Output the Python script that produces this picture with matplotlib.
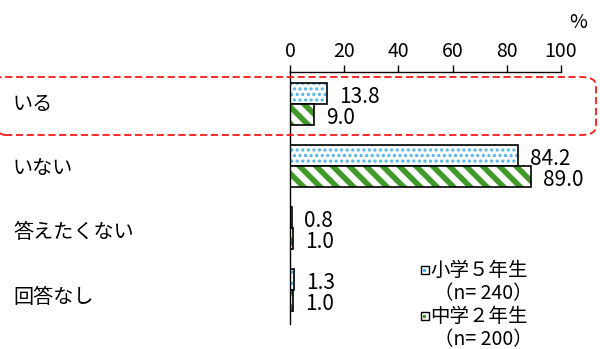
import matplotlib.pyplot as plt
from matplotlib.patches import FancyBboxPatch, Rectangle
import numpy as np

plt.rcParams['font.family'] = ['Noto Sans CJK JP', 'DejaVu Sans']

categories = ['いる', 'いない', '答えたくない', '回答なし']
elem5 = [13.8, 84.2, 0.8, 1.3]   # 小学5年生
mid2 = [9.0, 89.0, 1.0, 1.0]     # 中学2年生
series_names = ['小学５年生', '中学２年生']
series_n = ['（n= 240）', '（n= 200）']
xticks = [0, 20, 40, 60, 80, 100]

blue = '#4fb3e8'
green = '#3f9a2a'

fig = plt.figure(figsize=(6, 3.49), dpi=100)
ax = fig.add_axes([290/600, 1 - 324/349, (561 - 290)/600, (324 - 72)/349])

y = np.arange(len(categories))
h = 0.34

# 小学5年生: dotted
with plt.rc_context({'hatch.linewidth': 1.5}):
    ax.barh(y - h/2, elem5, height=h, color='white', edgecolor=blue,
            hatch='...', linewidth=0)
ax.barh(y - h/2, elem5, height=h, fill=False, edgecolor='black', linewidth=1.2)

# 中学2年生: diagonal stripes
with plt.rc_context({'hatch.linewidth': 4.0}):
    ax.barh(y + h/2, mid2, height=h, color='white', edgecolor=green,
            hatch='\\\\', linewidth=0)
ax.barh(y + h/2, mid2, height=h, fill=False, edgecolor='black', linewidth=1.2)

for i in range(len(categories)):
    ax.text(elem5[i] + 4.5, y[i] - h/2 + 0.05, f'{elem5[i]:.1f}', va='center',
            ha='left', fontsize=15)
    ax.text(mid2[i] + 4.5, y[i] + h/2 + 0.05, f'{mid2[i]:.1f}', va='center',
            ha='left', fontsize=15)

ax.set_xlim(0, 100)
ax.set_ylim(3.55, -0.52)
ax.xaxis.tick_top()
ax.set_xticks(xticks)
ax.set_xticklabels([str(t) for t in xticks], fontsize=14)
ax.tick_params(axis='x', direction='out', length=5, width=1, pad=2)
ax.set_yticks([])
for s in ['right', 'bottom']:
    ax.spines[s].set_visible(False)
for s in ['left', 'top']:
    ax.spines[s].set_linewidth(1)

for i, c in enumerate(categories):
    yy = 1 - (104 + i * 64.5) / 349
    fig.text(13/600, yy, c, fontsize=14.5, va='center', ha='left')

fig.text(578/600, 1 - 22/349, '%', fontsize=14, va='center', ha='center')

# highlight box
fig.patches.append(FancyBboxPatch((-10/600, 1 - 135/349), 606/600, 58/349,
                                  boxstyle='round,pad=0,rounding_size=0.025',
                                  transform=fig.transFigure, fill=False,
                                  edgecolor='#ff1a1a', linestyle=(0, (4, 2)),
                                  linewidth=1.3, clip_on=False))

# legend
leg_y = [270, 316]
leg_col = [blue, green]
for j in range(2):
    yy = 1 - leg_y[j] / 349
    fig.patches.append(Rectangle((421/600, yy - 4/349), 8/600, 8/349,
                                 transform=fig.transFigure, facecolor='white',
                                 edgecolor='black', linewidth=1))
    fig.patches.append(Rectangle((423/600, yy - 2/349), 3/600, 3/349,
                                 transform=fig.transFigure, facecolor=leg_col[j],
                                 edgecolor='none'))
    fig.text(430/600, yy, series_names[j], fontsize=14, va='center', ha='left')
    fig.text(434/600, yy - 24/349, series_n[j], fontsize=14, va='center', ha='left')

fig.savefig('out.png', dpi=100)
